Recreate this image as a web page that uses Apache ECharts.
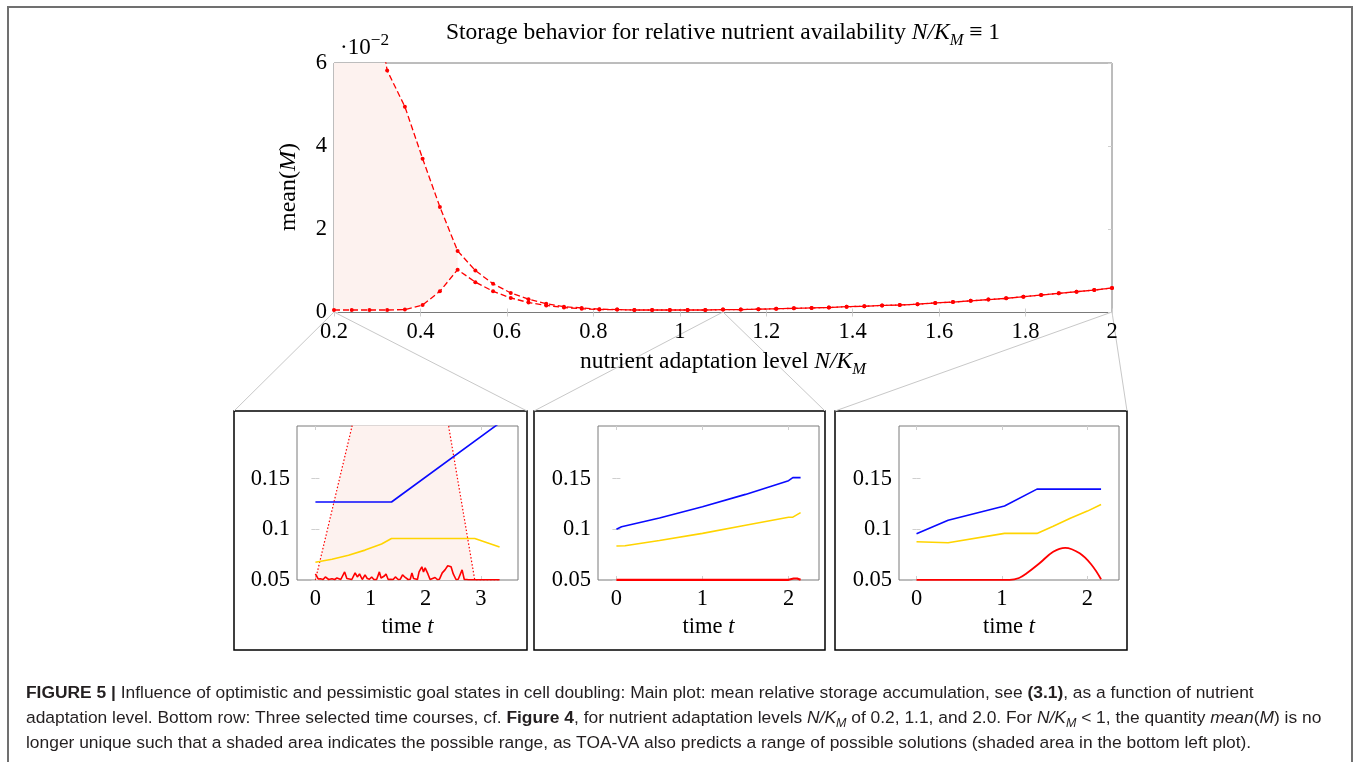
<!DOCTYPE html>
<html>
<head>
<meta charset="utf-8">
<script src="https://cdn.jsdelivr.net/npm/echarts@6/dist/echarts.min.js"></script>
<style>
html,body{margin:0;padding:0;background:#fff;}
#c{width:1354px;height:762px;}
</style>
</head>
<body>
<div id="c"></div>
<script>
// ---------- main plot data (mean(M) in units of 1e-2) ----------
const mainX = [0.2, 0.241, 0.282, 0.323, 0.364, 0.405, 0.445, 0.486, 0.527, 0.568, 0.609, 0.65, 0.691, 0.732, 0.773, 0.814, 0.855, 0.895, 0.936, 0.977, 1.018, 1.059, 1.1, 1.141, 1.182, 1.223, 1.264, 1.305, 1.345, 1.386, 1.427, 1.468, 1.509, 1.55, 1.591, 1.632, 1.673, 1.714, 1.755, 1.795, 1.836, 1.877, 1.918, 1.959, 2.0];
const mainUpper = [12.5, 10.4, 8.3, 5.82, 4.95, 3.70, 2.54, 1.48, 1.01, 0.69, 0.47, 0.32, 0.21, 0.14, 0.11, 0.08, 0.07, 0.06, 0.06, 0.06, 0.06, 0.06, 0.07, 0.07, 0.08, 0.09, 0.10, 0.11, 0.12, 0.14, 0.15, 0.17, 0.18, 0.20, 0.23, 0.25, 0.28, 0.31, 0.34, 0.38, 0.42, 0.46, 0.50, 0.54, 0.59];
const mainLower = [0.06, 0.06, 0.06, 0.06, 0.07, 0.18, 0.51, 1.03, 0.73, 0.51, 0.35, 0.24, 0.17, 0.12, 0.09, 0.07, 0.07, 0.06, 0.06, 0.06, 0.06, 0.06, 0.07, 0.07, 0.08, 0.09, 0.10, 0.11, 0.12, 0.14, 0.15, 0.17, 0.18, 0.20, 0.23, 0.25, 0.28, 0.31, 0.34, 0.38, 0.42, 0.46, 0.50, 0.54, 0.59];
const shadeCount = 8; // shaded range for the first points (x <= 0.486)
const mainXTicks = [0.2, 0.4, 0.6, 0.8, 1, 1.2, 1.4, 1.6, 1.8, 2];
const mainYTicks = [0, 2, 4, 6];

// ---------- inset 1 : N/K_M = 0.2 ----------
const blue1T = [0, 1.38, 3.34];
const blue1 = [0.127, 0.127, 0.205];
const yellow1T = [0, 0.3, 0.6, 0.9, 1.2, 1.38, 2.89, 3.34];
const yellow1 = [0.0675, 0.0705, 0.0745, 0.0795, 0.0855, 0.091, 0.091, 0.0825];
const range1T = [0, 0.665, 1.69, 2.415, 2.89, 3.34];
const range1 = [0.05, 0.202, 0.435, 0.202, 0.05, 0.05];
const red1T = [0, 0.05, 0.09, 0.14, 0.18, 0.24, 0.3, 0.35, 0.39, 0.46, 0.53, 0.57, 0.6, 0.66, 0.72, 0.76, 0.8, 0.85, 0.9, 0.94, 0.98, 1.02, 1.06, 1.11, 1.16, 1.19, 1.22, 1.25, 1.28, 1.32, 1.36, 1.41, 1.45, 1.5, 1.54, 1.58, 1.63, 1.68, 1.72, 1.75, 1.78, 1.81, 1.85, 1.88, 1.93, 1.96, 1.99, 2.04, 2.08, 2.11, 2.17, 2.21, 2.25, 2.3, 2.35, 2.4, 2.46, 2.5, 2.55, 2.59, 2.66, 2.7, 2.74, 2.78, 2.85, 2.95, 3.1, 3.34];
const red1 = [0.056, 0.051, 0.0512, 0.0505, 0.053, 0.0505, 0.0512, 0.0505, 0.052, 0.0505, 0.058, 0.0515, 0.0508, 0.0505, 0.057, 0.053, 0.056, 0.0505, 0.055, 0.0515, 0.0508, 0.053, 0.0505, 0.0505, 0.058, 0.052, 0.0508, 0.054, 0.056, 0.0505, 0.0508, 0.0505, 0.053, 0.0505, 0.0508, 0.055, 0.0525, 0.0505, 0.0508, 0.057, 0.0515, 0.0525, 0.0505, 0.058, 0.063, 0.058, 0.062, 0.056, 0.0505, 0.0508, 0.0525, 0.0505, 0.0508, 0.057, 0.06, 0.064, 0.063, 0.056, 0.0505, 0.0508, 0.06, 0.0505, 0.0505, 0.0502, 0.0502, 0.0502, 0.0502, 0.0502];

// ---------- inset 2 : N/K_M = 1.1 ----------
const blue2T = [0, 0.06, 0.5, 1.0, 1.5, 2.0, 2.05, 2.14];
const blue2 = [0.100, 0.1025, 0.1112, 0.1222, 0.1345, 0.148, 0.151, 0.151];
const yellow2T = [0, 0.1, 0.5, 1.0, 1.5, 2.0, 2.05, 2.14];
const yellow2 = [0.0835, 0.0838, 0.089, 0.096, 0.104, 0.112, 0.112, 0.1165];
const red2T = [0, 2.0, 2.06, 2.1, 2.14];
const red2 = [0.0502, 0.0502, 0.0515, 0.0515, 0.0502];

// ---------- inset 3 : N/K_M = 2.0 ----------
const blue3T = [0, 0.37, 1.03, 1.41, 2.16];
const blue3 = [0.0957, 0.109, 0.123, 0.1397, 0.1397];
const yellow3T = [0, 0.37, 1.03, 1.41, 1.6, 1.8, 2.0, 2.16];
const yellow3 = [0.0878, 0.0868, 0.096, 0.096, 0.103, 0.111, 0.118, 0.1246];
const red3T = [0, 1.09, 1.2, 1.29, 1.44, 1.6, 1.74, 1.91, 2.05, 2.16];
const red3 = [0.0502, 0.0502, 0.052, 0.0566, 0.0665, 0.0779, 0.0818, 0.0763, 0.0648, 0.0507];

const insetYTicks = [0.05, 0.1, 0.15];
const inset1XTicks = [0, 1, 2, 3];
const inset23XTicks = [0, 1, 2];

// ---------- helpers ----------
const zip = (xs, ys) => xs.map((x, i) => [x, ys[i]]);
const SERIF = "'Liberation Serif', 'DejaVu Serif', serif";
const RED = '#ff0000', BLUE = '#0a0aff', YELLOW = '#ffd400', PINK = '#fdf2ef';
const FRAME = '#7a7a7a', TICK = '#cfcfcf';
const TICKFS = 22.5;

const grids = [
  {left: 334, top: 63, width: 778, height: 249.5},
  {left: 297, top: 426, width: 221, height: 154},
  {left: 598, top: 426, width: 221, height: 154},
  {left: 899, top: 426, width: 220, height: 154}
].map(g => Object.assign(g, {show: true, borderColor: FRAME, borderWidth: 1, backgroundColor: 'transparent', containLabel: false}));

function xAxes(gi, min, max, ticks) {
  const base = {type: 'value', gridIndex: gi, min: min, max: max,
    axisLine: {show: false}, splitLine: {show: false}};
  return [
    Object.assign({}, base, {position: 'bottom',
      axisTick: {show: true, inside: true, length: 4, lineStyle: {color: TICK}, customValues: ticks},
      axisLabel: {show: true, customValues: ticks, color: '#000', fontFamily: SERIF, fontSize: TICKFS, margin: 8, showMinLabel: true, showMaxLabel: true}}),
    Object.assign({}, base, {position: 'top',
      axisTick: {show: true, inside: true, length: 4, lineStyle: {color: TICK}, customValues: ticks},
      axisLabel: {show: false}})
  ];
}
function yAxes(gi, min, max, ticks) {
  const base = {type: 'value', gridIndex: gi, min: min, max: max,
    axisLine: {show: false}, splitLine: {show: false}};
  return [
    Object.assign({}, base, {position: 'left',
      axisTick: {show: true, inside: true, length: 4, lineStyle: {color: TICK}, customValues: ticks},
      axisLabel: {show: true, customValues: ticks, color: '#000', fontFamily: SERIF, fontSize: TICKFS, margin: 7, showMinLabel: true, showMaxLabel: true}}),
    Object.assign({}, base, {position: 'right',
      axisTick: {show: true, inside: true, length: 4, lineStyle: {color: TICK}, customValues: ticks},
      axisLabel: {show: false}})
  ];
}

const xAxis = [].concat(
  xAxes(0, 0.2, 2, mainXTicks),
  xAxes(1, -0.334, 3.674, inset1XTicks),
  xAxes(2, -0.214, 2.354, inset23XTicks),
  xAxes(3, -0.205, 2.37, inset23XTicks)
);
const yAxis = [].concat(
  yAxes(0, 0, 6, mainYTicks),
  yAxes(1, 0.05, 0.202, insetYTicks),
  yAxes(2, 0.05, 0.202, insetYTicks),
  yAxes(3, 0.05, 0.202, insetYTicks)
);

function line(gi, data, color, extra) {
  return Object.assign({
    type: 'line', xAxisIndex: gi * 2, yAxisIndex: gi * 2, data: data,
    showSymbol: false, symbol: 'none', clip: true, animation: false, silent: true,
    lineStyle: {color: color, width: 1.6}, itemStyle: {color: color}, z: 3
  }, extra || {});
}

// shaded possible range in the main plot (between lower and upper boundary)
const shadeSeries = {
  type: 'custom', xAxisIndex: 0, yAxisIndex: 0, data: [[mainX[0], 0]], clip: true, silent: true, z: 1,
  renderItem: function (params, api) {
    const pts = [];
    for (let i = 0; i < shadeCount; i++) pts.push(api.coord([mainX[i], mainUpper[i]]));
    for (let i = shadeCount - 1; i >= 0; i--) pts.push(api.coord([mainX[i], mainLower[i]]));
    const cs = params.coordSys;
    return {
      type: 'polygon', shape: {points: pts}, style: {fill: PINK, stroke: 'none'},
      clipPath: {type: 'rect', shape: {x: cs.x, y: cs.y, width: cs.width, height: cs.height}}
    };
  }
};

const dashed = {showSymbol: true, symbol: 'circle', symbolSize: 4, lineStyle: {color: RED, width: 1.3, type: [6, 3]}};
const series = [
  shadeSeries,
  line(0, zip(mainX, mainUpper), RED, dashed),
  line(0, zip(mainX, mainLower), RED, dashed),
  // inset 1
  line(1, zip(range1T, range1), RED, {lineStyle: {color: RED, width: 1.2, type: [1.5, 2]}, areaStyle: {color: PINK, opacity: 1, origin: 'start'}, z: 2}),
  line(1, zip(blue1T, blue1), BLUE),
  line(1, zip(yellow1T, yellow1), YELLOW),
  line(1, zip(red1T, red1), RED, {lineStyle: {color: RED, width: 1.6}}),
  // inset 2
  line(2, zip(blue2T, blue2), BLUE),
  line(2, zip(yellow2T, yellow2), YELLOW),
  line(2, zip(red2T, red2), RED, {lineStyle: {color: RED, width: 2.2}}),
  // inset 3
  line(3, zip(blue3T, blue3), BLUE),
  line(3, zip(yellow3T, yellow3), YELLOW),
  line(3, zip(red3T, red3), RED, {smooth: 0.4, lineStyle: {color: RED, width: 1.8}})
];

// ---------- text & decoration ----------
function mkRich(fs) {
  return {
    n: {fontFamily: SERIF, fontSize: fs, fill: '#000', lineHeight: 32},
    i: {fontFamily: SERIF, fontSize: fs, fontStyle: 'italic', fill: '#000', lineHeight: 32},
    s: {fontFamily: SERIF, fontSize: fs * 0.7, fontStyle: 'italic', fill: '#000', lineHeight: 18, verticalAlign: 'bottom'},
    p: {fontFamily: SERIF, fontSize: fs * 0.75, fill: '#000', lineHeight: 16, verticalAlign: 'top'}
  };
}
function stext(x, y, text, fs, opts) {
  return Object.assign({type: 'text', x: x, y: y, silent: true, z: 10,
    style: {text: text, rich: mkRich(fs), fontFamily: SERIF, fontSize: fs, fill: '#000', textAlign: 'center', textVerticalAlign: 'middle'}}, opts || {});
}
const SANS = "'Liberation Sans', Arimo, sans-serif";
const CFS = 17.4;
const capRich = {
  r: {fontFamily: SANS, fontSize: CFS, fill: '#231f20', lineHeight: 24},
  b: {fontFamily: SANS, fontSize: CFS, fontWeight: 'bold', fill: '#231f20', lineHeight: 24},
  i: {fontFamily: SANS, fontSize: CFS, fontStyle: 'italic', fill: '#231f20', lineHeight: 24},
  s: {fontFamily: SANS, fontSize: CFS * 0.72, fontStyle: 'italic', fill: '#231f20', lineHeight: 15, verticalAlign: 'bottom'}
};
function ctext(y, text) {
  return {type: 'text', x: 26, y: y, silent: true, z: 10,
    style: {text: text, rich: capRich, textAlign: 'left', textVerticalAlign: 'middle'}};
}
function seg(x1, y1, x2, y2, color, w) {
  return {type: 'line', silent: true, z: 0, shape: {x1: x1, y1: y1, x2: x2, y2: y2}, style: {stroke: color, lineWidth: w}};
}
function box(x, y, w, h) {
  return {type: 'rect', silent: true, z: 0, shape: {x: x, y: y, width: w, height: h}, style: {fill: 'none', stroke: '#000', lineWidth: 1.5}};
}

const graphic = [
  {type: 'polyline', silent: true, z: 0, shape: {points: [[8, 770], [8, 7], [1352, 7], [1352, 770]]}, style: {stroke: '#707070', lineWidth: 2, fill: 'none'}},
  stext(723, 33, '{n|Storage behavior for relative nutrient availability }{i|N/K}{s|M}{n| ≡ 1}', 23.5),
  stext(340, 48, '{n|·10}{p|−2}', 23, {style: {text: '{n|·10}{p|−2}', rich: mkRich(23), textAlign: 'left', textVerticalAlign: 'middle'}}),
  stext(723, 362, '{n|nutrient adaptation level }{i|N/K}{s|M}', 23.5),
  stext(289, 187, '{n|mean(}{i|M}{n|)}', 24, {rotation: Math.PI / 2}),
  stext(407.5, 627, '{n|time }{i|t}', 22.5),
  stext(708.5, 627, '{n|time }{i|t}', 22.5),
  stext(1009, 627, '{n|time }{i|t}', 22.5),
  box(234, 411, 293, 239),
  box(534, 411, 291, 239),
  box(835, 411, 292, 239),
  seg(334, 312, 234, 411, '#c8c8c8', 1),
  seg(334, 312, 527, 411, '#c8c8c8', 1),
  seg(723, 312, 534, 411, '#c8c8c8', 1),
  seg(723, 312, 825, 411, '#c8c8c8', 1),
  seg(1112, 312, 835, 411, '#c8c8c8', 1),
  seg(1112, 312, 1127, 411, '#c8c8c8', 1),
  ctext(693, '{b|FIGURE 5 |}{r| Influence of optimistic and pessimistic goal states in cell doubling: Main plot: mean relative storage accumulation, see }{b|(3.1)}{r|, as a function of nutrient}'),
  ctext(718, '{r|adaptation level. Bottom row: Three selected time courses, cf. }{b|Figure 4}{r|, for nutrient adaptation levels }{i|N/K}{s|M}{r| of 0.2, 1.1, and 2.0. For }{i|N/K}{s|M}{r| < 1, the quantity }{i|mean}{r|(}{i|M}{r|) is no}'),
  ctext(743, '{r|longer unique such that a shaded area indicates the possible range, as TOA-VA also predicts a range of possible solutions (shaded area in the bottom left plot).}')
];

const chart = echarts.init(document.getElementById('c'), null, {renderer: 'canvas'});
chart.setOption({
  animation: false,
  backgroundColor: '#fff',
  grid: grids,
  xAxis: xAxis,
  yAxis: yAxis,
  series: series,
  graphic: graphic
});
</script>
</body>
</html>
